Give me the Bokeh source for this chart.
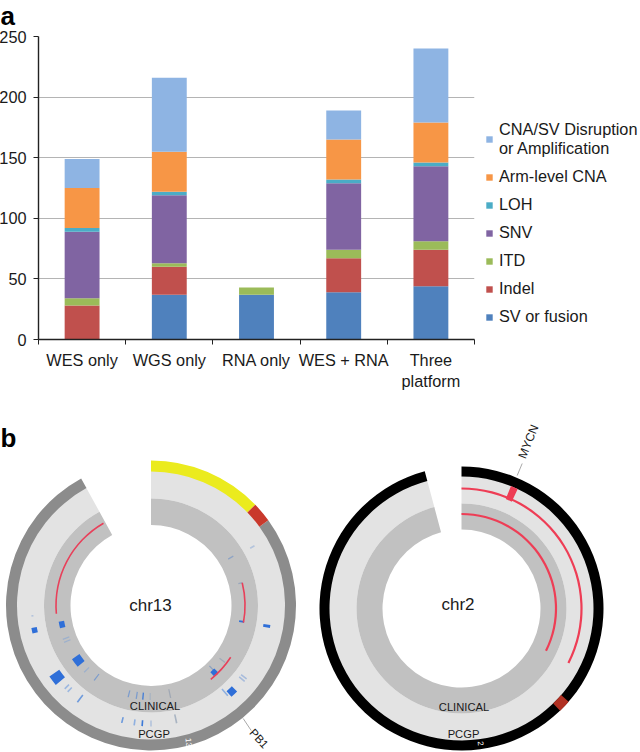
from math import radians
from bokeh.plotting import figure
from bokeh.models import (ColumnDataSource, Range1d, LinearAxis, FixedTicker, Legend, LegendItem, Label)
from bokeh.embed import file_html
from bokeh.resources import INLINE

FONT = "Liberation Sans"

# ---------- panel a data ----------
categories = ["WES only", "WGS only", "RNA only", "WES + RNA", "Three\nplatform"]
sv_fusion = [0, 37, 37, 39, 44]
indel = [28, 23, 0, 28, 30]
itd = [6, 3, 6, 7, 7]
snv = [55, 56, 0, 55, 62]
loh = [3, 3, 0, 3, 3]
arm_cna = [33, 33, 0, 33, 33]
cna_sv = [24, 61, 0, 24, 61]
series_names = ["SV or fusion", "Indel", "ITD", "SNV", "LOH", "Arm-level CNA",
                "CNA/SV Disruption\nor Amplification"]
series_colors = ["#4F81BD", "#C0504D", "#9BBB59", "#8064A2", "#4BACC6", "#F79646", "#8EB4E3"]
y_ticks = [0, 50, 100, 150, 200, 250]

# ---------- panel b data (angles in degrees, radii in px-like units) ----------
c13_yellow = (44, 90)
c13_red = (36, 44)
c13_gap = (90, 118.8)
c13_arcs_angle = [(120, 185), (-10.5, 14), (-51, -33)]
c13_arcs_r = [95, 94, 95]
c13_block_a = [-10, 192, 192, 217, 217.4, -46.6, -46.8, -10]
c13_block_r = [117.5, 119, 91, 91, 118, 92, 118, 92]
c13_block_dr = [7, 5.5, 5.5, 9, 12, 5.5, 7.5, 5]
c13_block_w = [2.8, 5.5, 6.5, 9, 10, 5.5, 7.5, 1.8]
c13_line_a = [30, 185, 224, 226, 232.7, 256, 262, 265.8, 270, 282.3, -49.6, -37.5, -39,
              31, 14, 201, 203, 225, 232.8, 256, 261, 265, 269.5, 282, -37.6, -46]
c13_line_r = [117, 119, 117, 117, 117, 118, 118, 118, 118, 116, 114, 117, 117,
              93, 92, 91, 91, 91, 90, 91, 91, 91, 91, 90, 90, 90]
c13_line_dr = [5, 2, 6, 6, 9, 6, 6, 6, 6, 9, 9, 7, 7,
               6, 4, 7, 7, 7, 8, 7, 7, 7, 7, 9, 7, 12]
c13_line_color = ["#b4c4dc", "#b4c4dc", "#9db8e0", "#9db8e0", "#6f9bdc", "#6f9bdc", "#8fb0e0", "#3d7ad8",
                  "#b4c4dc", "#a9b4c2", "#8fb0e0", "#a8bcdc", "#a8bcdc",
                  "#8fa4c4", "#9aa8bc", "#9db0cc", "#9db0cc", "#9db0cc", "#7c9ccc", "#7c9ccc", "#7c9ccc",
                  "#3d7ad8", "#a9b4c2", "#a0a8b4", "#a0aab8", "#8aa0c0"]

c2_gap = (90, 105)
c2_red = (-46, -41)
c2_arcs_angle = [(-27, 90), (-26.6, 90)]
c2_arcs_r = [120, 94.5]
c2_gene = (64.8, 68)


def rad(a):
    return radians(a)


def ring(p, cx, cy, r0, r1, start, end, color):
    p.annular_wedge(x=[cx], y=[cy], inner_radius=[r0], outer_radius=[r1], start_angle=[rad(start)],
                    end_angle=[rad(end)], direction="anticlock", fill_color=color, line_color=None)


def txt(p, x, y, s, size, color="#1a1a1a", angle=0, style="normal", align="center", base="middle"):
    p.add_layout(Label(x=x, y=y, text=s, text_font=FONT, text_font_size=f"{size}px", text_color=color,
                       angle=angle, angle_units="deg", text_align=align, text_baseline=base,
                       text_font_style=style))


# ---------- panel a ----------
p1 = figure(width=644, height=412, x_range=Range1d(0, len(categories)),
            y_range=Range1d(0, 250), output_backend="svg", toolbar_location=None, x_axis_location=None,
            y_axis_location=None, frame_width=436, frame_height=303, min_border_left=39, min_border_top=36,
            min_border_right=165, min_border_bottom=73, outline_line_color=None, background_fill_color="white",
            styles={"position": "absolute", "left": "-4px", "top": "0px"})
p1.xgrid.visible = False

yaxis = LinearAxis(ticker=FixedTicker(ticks=y_ticks), major_tick_in=0, major_tick_out=5, minor_tick_out=0,
                   minor_tick_in=0, major_label_text_font=FONT, major_label_text_font_size="16.3px",
                   major_label_text_color="#1a1a1a", axis_line_color="#222222", major_tick_line_color="#222222",
                   major_label_standoff=7, axis_line_width=1.4)
p1.add_layout(yaxis, "left")
p1.ygrid.grid_line_color = "#b4b4b4"
p1.ygrid.ticker = FixedTicker(ticks=y_ticks)
p1.ygrid.grid_line_width = 1.2

centers = [i + 0.5 for i in range(len(categories))]
edges = list(range(len(categories) + 1))
x_axis = LinearAxis(ticker=FixedTicker(ticks=centers, minor_ticks=edges),
                    major_label_overrides=dict(zip(centers, categories)),
                    axis_line_color="#222222", axis_line_width=1.4, major_tick_line_color=None,
                    major_tick_in=0, major_tick_out=5, minor_tick_in=0, minor_tick_out=5,
                    minor_tick_line_color="#222222", major_label_text_font=FONT,
                    major_label_text_font_size="16.3px", major_label_text_color="#1a1a1a",
                    major_label_standoff=6, major_label_orientation="horizontal")
p1.add_layout(x_axis, "below")

stack = ["sv", "indel", "itd", "snv", "loh", "arm", "cna"]
src = ColumnDataSource(dict(x=centers, sv=sv_fusion, indel=indel, itd=itd, snv=snv, loh=loh, arm=arm_cna, cna=cna_sv))
rs = p1.vbar_stack(stack, x="x", width=0.4, source=src, color=series_colors, line_color=None)
items = [LegendItem(label=n, renderers=[r]) for n, r in zip(series_names, rs)][::-1]
legend = Legend(items=items, location=(11, 13), border_line_color=None, background_fill_alpha=0,
                glyph_width=8, glyph_height=8, label_text_font=FONT, label_text_font_size="16.3px",
                label_text_color="#1a1a1a", spacing=9, margin=0, padding=0, label_standoff=6,
                label_height=19, label_text_baseline="middle")
p1.add_layout(legend, "right")

# panel letter "a" sits above the chart frame, in a small figure of its own
p0 = figure(width=30, height=30, x_range=Range1d(0, 30), y_range=Range1d(0, 30), output_backend="svg",
            toolbar_location=None, x_axis_location=None, y_axis_location=None, min_border=0,
            frame_width=30, frame_height=30, outline_line_color=None, background_fill_alpha=0,
            border_fill_alpha=0, styles={"position": "absolute", "left": "0px", "top": "0px"})
p0.grid.visible = False
txt(p0, 0, 15, "a", 26, color="black", style="bold", align="left", base="alphabetic")

# ---------- panel b ----------
p2 = figure(width=640, height=340, x_range=Range1d(0, 640), y_range=Range1d(0, 340), output_backend="svg",
            toolbar_location=None, x_axis_location=None, y_axis_location=None, min_border=0,
            frame_width=640, frame_height=340,
            outline_line_color=None, background_fill_color="white",
            styles={"position": "absolute", "left": "0px", "top": "412px"})
p2.grid.visible = False

# chr13
cx, cy = 150.5, 147
R_RING0, R_RING1, R_BAND0, R_BAND1, R_IN = 134, 145, 107, 134, 80.5
ring(p2, cx, cy, R_BAND0, R_BAND1 + 1, c13_gap[1], c13_gap[0], "#e3e3e3")
ring(p2, cx, cy, R_IN, R_BAND0, c13_gap[1], c13_gap[0], "#c1c1c1")
ring(p2, cx, cy, R_RING0, R_RING1, c13_gap[1], c13_red[0] + 360, "#8c8c8c")
ring(p2, cx, cy, R_RING0, R_RING1, c13_yellow[0], c13_yellow[1], "#ebeb1e")
ring(p2, cx, cy, R_RING0, R_RING1, c13_red[0], c13_red[1], "#c9392c")

for a, r, dr, col in zip(c13_line_a, c13_line_r, c13_line_dr, c13_line_color):
    ring(p2, cx, cy, r - dr / 2, r + dr / 2, a - 0.4, a + 0.4, col)
for a, r, dr, w in zip(c13_block_a, c13_block_r, c13_block_dr, c13_block_w):
    d = w / r * 57.3 / 2
    ring(p2, cx, cy, r - dr / 2, r + dr / 2, a - d, a + d, "#2f6fd8")
for (a0, a1), r in zip(c13_arcs_angle, c13_arcs_r):
    ring(p2, cx, cy, r - 0.8, r + 0.8, a0, a1, "#e8405a")

# chr2
dx, dy = 461, 144
ring(p2, dx, dy, 105, 133, c2_gap[1], c2_gap[0], "#e3e3e3")
ring(p2, dx, dy, 79, 105, c2_gap[1], c2_gap[0], "#c1c1c1")
ring(p2, dx, dy, 132, 142, c2_gap[1], c2_gap[0], "#000000")
ring(p2, dx, dy, 132, 142, c2_red[0], c2_red[1], "#b03022")
for (a0, a1), r in zip(c2_arcs_angle, c2_arcs_r):
    ring(p2, dx, dy, r - 1.1, r + 1.1, a0, a1, "#ee3d55")
ring(p2, dx, dy, 118, 132, c2_gene[0], c2_gene[1], "#ee3d55")

# leader lines
p2.line([242.7, 250.7], [34, 22], line_color="#aaaaaa", line_width=1)
p2.line([516.7, 521.7], [277, 289], line_color="#aaaaaa", line_width=1)

txt(p2, 150, 147, "chr13", 17)
txt(p2, 154.5, 47, "CLINICAL", 11.2)
txt(p2, 153.5, 19, "PCGP", 11.2)
txt(p2, 188, 10, "13", 8, color="white", angle=-85)
txt(p2, 258.5, 14, "PB1", 11.5, angle=-47)
txt(p2, 457.5, 148, "chr2", 17)
txt(p2, 463.5, 46, "CLINICAL", 11.2)
txt(p2, 463, 19, "PCGP", 11.2)
txt(p2, 480, 9, "2", 8, color="white", angle=-85)
txt(p2, 528, 311, "MYCN", 12, angle=68)
txt(p2, 0, 315, "b", 26, color="black", style="bold", align="left", base="alphabetic")

open("out.html", "w").write(file_html([p1, p0, p2], INLINE))
